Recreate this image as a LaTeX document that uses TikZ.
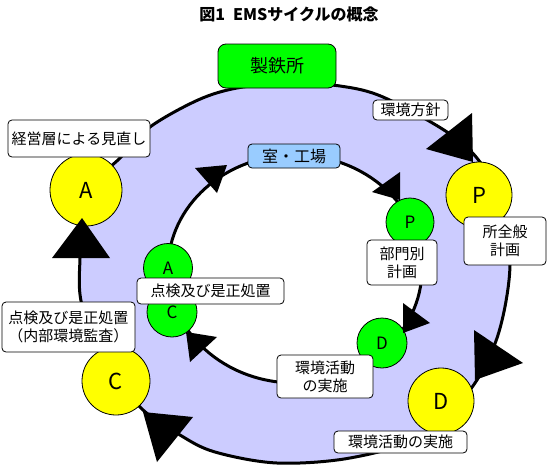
\documentclass[tikz,border=0pt]{standalone}
\usepackage{fontspec}
\setmainfont{Noto Sans CJK JP}
\definecolor{lav}{HTML}{CCCCFF}
\definecolor{ylw}{HTML}{FFFF00}
\definecolor{grn}{HTML}{00FF00}
\definecolor{lblue}{HTML}{99CCFF}
\tikzset{
  ring/.style={line width=3pt},
  ycirc/.style={circle, draw, line width=0.8pt, fill=ylw, inner sep=0pt, font=\fontsize{22}{24}\selectfont},
  gcirc/.style={circle, draw, line width=0.8pt, fill=grn, inner sep=0pt, font=\fontsize{17}{19}\selectfont},
  lbl/.style={draw, line width=0.8pt, fill=white, rounded corners=4pt, inner sep=1pt, align=center, font=\fontsize{15}{18}\selectfont},
  head/.style={fill=black}
}
\begin{document}
\begin{tikzpicture}[x=1pt,y=-1pt]
\useasboundingbox (0,0) rectangle (547,475);
\fill[white] (0,0) rectangle (547,475);

% title
\node[font=\bfseries\fontsize{16}{18}\selectfont] (title) at (289,14) {図1\hskip8pt EMSサイクルの概念};

% outer lavender ring
\draw[ring, fill=lav] plot[smooth cycle, tension=0.55] coordinates {
 (288,83) (340,86) (383,97) (447,132) (480,162) (500,205) (510,265)
 (498,335) (470,390) (420,437) (350,458) (277,463) (215,452) (180,435)
 (140,407) (108,360) (82,305) (80,258) (84,215) (100,178) (120,158)
 (150,127) (198,100) (237,88)};
% inner white ellipse
\draw[ring, fill=white] (295,269) ellipse [x radius=127, y radius=114];

% circles
\node[ycirc, minimum size=72pt] (yA) at (86,190) {A};
\node[ycirc, minimum size=66pt] (yP) at (479,195) {P};
\node[ycirc, minimum size=66pt] (yD) at (441,401) {D};
\node[ycirc, minimum size=68pt] (yC) at (116,381) {C};
\node[gcirc, minimum size=48pt] (gP) at (410,222) {P};
\node[gcirc, minimum size=50pt] (gD) at (382,343) {D};
\node[gcirc, minimum size=49pt] (gA) at (168,268) {A};
\node[gcirc, minimum size=50pt] (gC) at (172,312) {C};

% arrowheads
\fill[head] (472,113) -- (426,149) -- (473,162) -- cycle;
\fill[head] (474,330) -- (523,363) -- (475,380) -- cycle;
\fill[head] (143,412) -- (193,417) -- (157,462) -- cycle;
\fill[head] (52,258) -- (110,258) -- (82,218) -- cycle;
\fill[head] (195,168) -- (227,165) -- (217,193) -- cycle;
\fill[head] (372,192) -- (400,172) -- (400,200) -- cycle;
\fill[head] (403,303) -- (430,323) -- (403,333) -- cycle;
\fill[head] (186,332) -- (217,337) -- (190,362) -- cycle;

% boxes
\node[draw, line width=0.8pt, fill=grn, rounded corners=8pt, minimum width=118pt, minimum height=44pt, font=\fontsize{18}{20}\selectfont] (works) at (277,66) {製鉄所};
\node[draw, line width=0.8pt, fill=lblue, rounded corners=4pt, minimum width=92pt, minimum height=24pt, inner sep=1pt, font=\fontsize{16}{18}\selectfont] (room) at (294,156) {室・工場};

% labels
\node[lbl, minimum width=75pt, minimum height=20pt] (policy) at (410.5,110) {環境方針};
\node[lbl, minimum width=142pt, minimum height=37pt] (review) at (79,138.5) {経営層による見直し};
\node[lbl, minimum width=82pt, minimum height=48pt] (plan) at (505,241) {所全般\\計画};
\node[lbl, minimum width=70pt, minimum height=45pt] (dplan) at (402,262.5) {部門別\\計画};
\node[lbl, minimum width=96pt, minimum height=43pt] (ddo) at (325,376.5) {環境活動\\の実施};
\node[lbl, minimum width=133pt, minimum height=22pt] (do) at (400.5,442) {環境活動の実施};
\node[lbl, minimum width=147pt, minimum height=26pt] (dcheck) at (210.5,291) {点検及び是正処置};
\node[lbl, minimum width=133pt, minimum height=50pt] (check) at (68.5,327) {点検及び是正処置\\（内部環境監査）};
\end{tikzpicture}
\end{document}
